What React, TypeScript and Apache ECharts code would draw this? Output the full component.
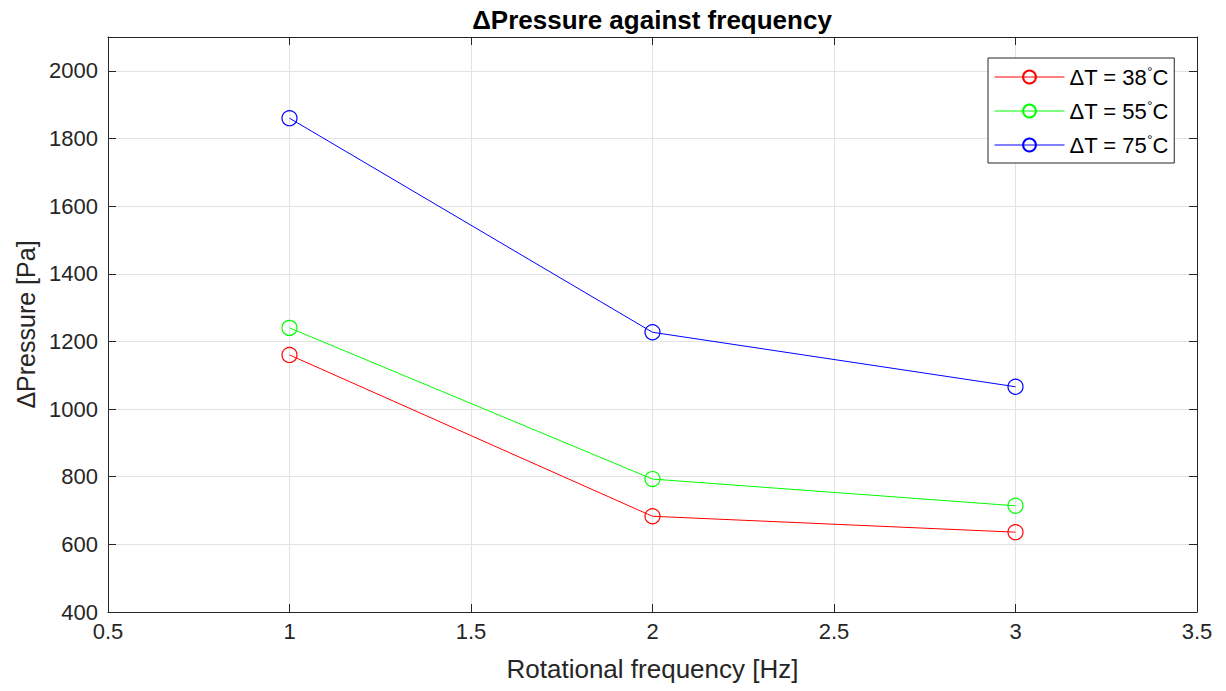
import React, { useEffect, useRef } from "react";
import * as echarts from "echarts";

const frequencies = [1, 2, 3];
const dp38 = [1160, 683, 636];
const dp55 = [1240, 793, 714];
const dp75 = [1860, 1227, 1066];
const seriesNames = ["ΔT = 38°C", "ΔT = 55°C", "ΔT = 75°C"];
const seriesColors = ["#ff0000", "#00ff00", "#0000ff"];
const titleText = "ΔPressure against frequency";
const xName = "Rotational frequency [Hz]";
const yName = "ΔPressure [Pa]";

const AXIS = "#262626";
const FONT = "'Liberation Sans', Arial, sans-serif";

export default function App() {
  const ref = useRef<HTMLDivElement>(null);
  useEffect(() => {
    if (!ref.current) return;
    const chart = echarts.init(ref.current, undefined, { renderer: "svg" });
    const all = [dp38, dp55, dp75];
    const series = all.map((vals, i) => ({
      name: seriesNames[i],
      type: "line",
      data: vals.map((v, j) => [frequencies[j], v]),
      symbol: "circle",
      symbolSize: 15,
      lineStyle: { color: seriesColors[i], width: 1 },
      itemStyle: { color: "rgba(0,0,0,0)", borderColor: seriesColors[i], borderWidth: 1.2 },
      emphasis: { disabled: true },
      xAxisIndex: 0,
      yAxisIndex: 0,
    }));
    const baseX = {
      type: "value",
      min: 0.5,
      max: 3.5,
      interval: 0.5,
      axisLine: { show: true, lineStyle: { color: AXIS, width: 1 } },
      axisTick: { show: true, inside: true, length: 8, lineStyle: { color: AXIS } },
    };
    const baseY = {
      type: "value",
      min: 400,
      max: 2100,
      interval: 200,
      axisLine: { show: true, lineStyle: { color: AXIS, width: 1 } },
      axisTick: { show: true, inside: true, length: 8, lineStyle: { color: AXIS } },
    };
    chart.setOption({
      animation: false,
      backgroundColor: "#ffffff",
      textStyle: { fontFamily: FONT },
      grid: { left: 108, right: 29, top: 37, bottom: 79, containLabel: false },
      graphic: [
        {
          type: "text",
          x: 652,
          y: 20,
          style: {
            text: titleText,
            align: "center",
            verticalAlign: "middle",
            fontFamily: FONT,
            fontWeight: "bold",
            fontSize: 26,
            fill: "#000000",
          },
        },
      ],
      legend: {
        show: true,
        orient: "vertical",
        left: 988,
        top: 58,
        padding: [7, 6, 6, 6],
        itemWidth: 70,
        itemHeight: 16,
        itemGap: 10,
        borderColor: AXIS,
        borderWidth: 1,
        backgroundColor: "#ffffff",
        data: seriesNames,
        lineStyle: { width: 1 },
        formatter: (name: string) => name.replace("°", "{sup|°}"),
        textStyle: {
          fontFamily: FONT,
          fontSize: 22,
          color: "#000000",
          lineHeight: 24,
          rich: {
            sup: { fontSize: 13, fontFamily: FONT, color: "#000000", verticalAlign: "top", lineHeight: 12 },
          },
        },
      },
      xAxis: [
        {
          ...baseX,
          position: "bottom",
          name: xName,
          nameLocation: "middle",
          nameGap: 44,
          nameTextStyle: { fontSize: 26, color: AXIS, fontFamily: FONT },
          axisLabel: { show: true, color: AXIS, fontSize: 22, margin: 8, fontFamily: FONT },
          splitLine: { show: true, lineStyle: { color: "#e3e3e3", width: 1 } },
        },
        {
          ...baseX,
          position: "top",
          axisLabel: { show: false },
          splitLine: { show: false },
        },
      ],
      yAxis: [
        {
          ...baseY,
          position: "left",
          name: yName,
          nameLocation: "middle",
          nameGap: 68,
          nameTextStyle: { fontSize: 25, color: AXIS, fontFamily: FONT },
          axisLabel: {
            show: true,
            color: AXIS,
            fontSize: 22,
            margin: 10,
            fontFamily: FONT,
            formatter: (v: number) => (v > 2000 ? "" : String(v)),
          },
          splitLine: { show: true, lineStyle: { color: "#e3e3e3", width: 1 } },
        },
        {
          ...baseY,
          position: "right",
          axisLabel: { show: false },
          splitLine: { show: false },
        },
      ],
      series,
    });
    return () => chart.dispose();
  }, []);
  return (
    <div
      ref={ref}
      style={{ position: "absolute", left: 0, top: 0, width: 1226, height: 691 }}
    />
  );
}
